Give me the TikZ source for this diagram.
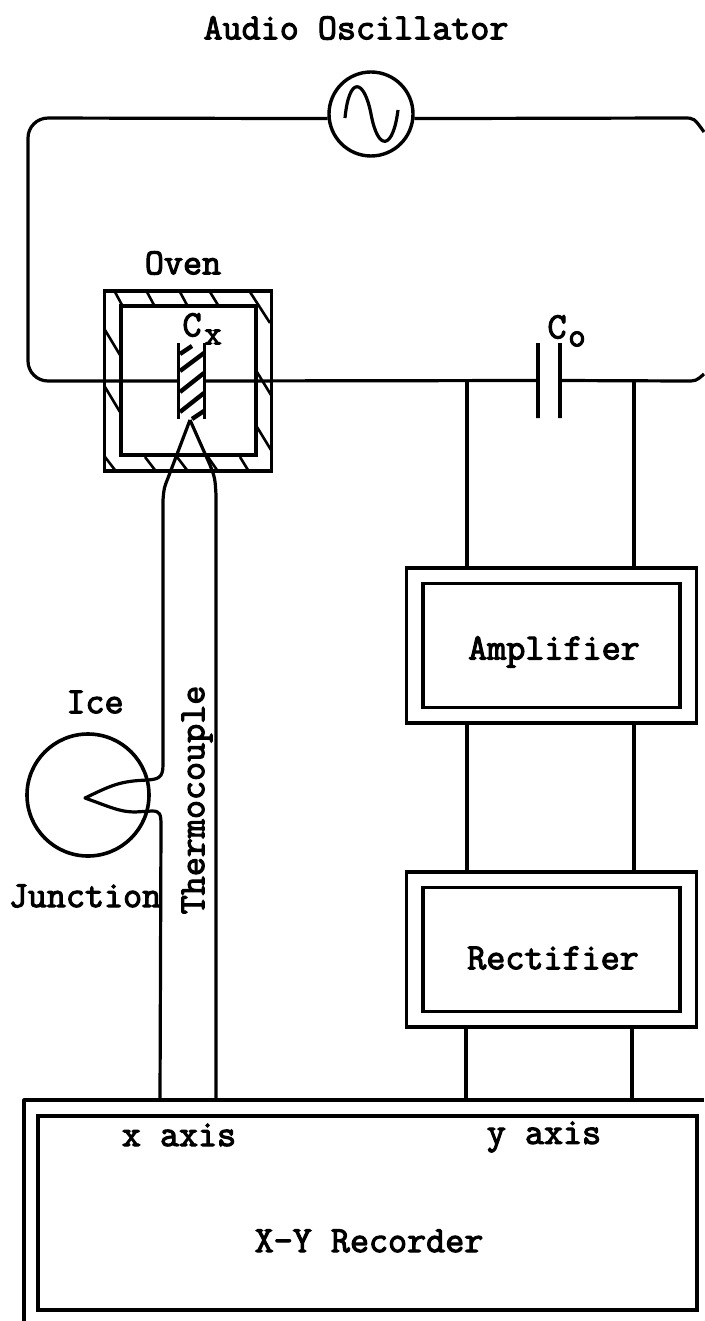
\documentclass[tikz,border=0pt]{standalone}
\usepackage{fontspec}
\usepackage{tikz}
\usetikzlibrary{positioning}
\newfontfamily\typefam{Latin Modern Mono}[FakeBold=3]
\tikzset{
  wire/.style={line width=3.2pt, line join=round},
  housing/.style={rectangle, draw=black, line width=3.6pt, inner sep=0pt},
  plate/.style={rectangle, draw=black, line width=3.2pt, inner sep=0pt, minimum width=0pt, minimum height=75pt},
  outerbox/.style={housing, minimum width=290pt, minimum height=155pt},
  innerbox/.style={housing, minimum width=257pt, minimum height=124pt},
  caption/.style={inner sep=0pt, font=\labelfont}
}
\newcommand{\labelfont}{\typefam\fontsize{37}{37}\selectfont}
\newcommand{\subfont}{\typefam\fontsize{34}{34}\selectfont}
\begin{document}
\begin{tikzpicture}[x=1pt, y=-1pt]
\useasboundingbox (0,0) rectangle (704,1321);

% Oscillator and its label
\node (oscillator) [circle, draw=black, line width=3.4pt, minimum size=84pt, inner sep=0pt] at (371,114) {};
\node (audio) [caption] at (356,28) {Audio Oscillator};
\draw [wire] (345,118) .. controls (349,76) and (364,78) .. (371,114)
             .. controls (378,152) and (393,150) .. (398,110);

% Oven walls with hatching
\node (oven) [housing, minimum width=167pt, minimum height=180pt] at (188,381) {};
\node (chamber) [housing, minimum width=135pt, minimum height=149pt] at (188.5,380.5) {};
\node (ovenlabel) [caption] at (183,263) {Oven};
\foreach \xa/\ya/\xb/\yb in {115/292/122/305, 147/292/154/305, 180/292/187/305, 210/292/218/305,
    250/292/270/323, 105/330/120/355, 105/387/120/412, 105/457/115/470, 145/457/155/470,
    177/457/187/470, 208/457/217/470, 240/457/248/470, 257/372/271/395, 257/427/271/450}
  \draw [line width=2.6pt] (\xa,\ya) -- (\xb,\yb);

% Sample
\node (cx) [minimum width=25pt, minimum height=76pt, inner sep=0pt] at (191.5,381) {};
\draw [wire] (cx.north west) -- (cx.south west);
\draw [wire] (cx.north east) -- (cx.south east);
\foreach \xa/\ya/\xb/\yb in {180/354/192/346, 180/371/204/353, 180/392/204/373, 180/412/204/393, 192/419/204/411}
  \draw [line width=4.4pt] (\xa,\ya) -- (\xb,\yb);
\node (cxlabel) [caption] at (192,325) {C};
\node (cxsub) [inner sep=0pt, font=\subfont] at (213,337) {x};

% Main loop
\node (plateleft) [plate] at (538,380.5) {};
\node (plateright) [plate] at (560,380.5) {};
\coordinate (topleft) at (28,118);
\coordinate (bottomleft) at (28,381);
\coordinate (topright) at (684,118);
\coordinate (edgetop) at (704,132);
\coordinate (bottomright) at (686,381);
\coordinate (edgebottom) at (704,374);
\draw [wire, rounded corners=20pt] (oscillator.186) -- (topleft) -- (bottomleft) -- (cx.west);
\draw [wire] (oscillator.-6) -- (topright) .. controls (694,118) .. (edgetop);
\draw [wire] (cx.east) -- (plateleft);
\draw [wire] (plateright) -- (bottomright) .. controls (696,381) .. (edgebottom);
\node (colabel) [caption] at (557,327) {C};
\node (cosub) [inner sep=0pt, font=\subfont] at (577,339) {o};

% Measuring chain
\node (amplifier) [outerbox] at (551.5,645.5) {};
\node (ampinner) [innerbox] at (551.5,645.5) {};
\node (amptext) [caption] at (554,652) {Amplifier};
\node (rectifier) [outerbox] at (551.5,949.5) {};
\node (recinner) [innerbox] at (551.5,949.5) {};
\node (rectext) [caption] at (553,958) {Rectifier};

% Recorder
\coordinate (framecorner) at (24,1100);
\coordinate (frameright) at (704,1100);
\coordinate (framebottom) at (24,1321);
\draw [wire] (frameright) -- (framecorner) -- (framebottom);
\node (recorder) [housing, minimum width=659pt, minimum height=194pt] at (367.5,1213) {};
\node (xaxis) [caption] at (179,1135) {x axis};
\node (yaxis) [caption] at (544,1137) {y axis};
\node (rectitle) [caption] at (369,1241) {X-Y Recorder};

\coordinate (tapleft) at (467,381);
\coordinate (tapright) at (634,381);
\coordinate (outleft) at (466,1100);
\coordinate (outright) at (632,1100);
\draw [wire] (tapleft) -- (tapleft |- amplifier.north);
\draw [wire] (tapright) -- (tapright |- amplifier.north);
\draw [wire] (tapleft |- amplifier.south) -- (tapleft |- rectifier.north);
\draw [wire] (tapright |- amplifier.south) -- (tapright |- rectifier.north);
\draw [wire] (outleft |- rectifier.south) -- (outleft);
\draw [wire] (outright |- rectifier.south) -- (outright);

% Ice junction and thermocouple
\node (ice) [circle, draw=black, line width=3.6pt, minimum size=122pt, inner sep=0pt] at (88,795) {};
\node (icelabel) [caption] at (95,702) {Ice};
\node (junction) [caption] at (85,896) {Junction};
\node (thermo) [caption, rotate=90] at (197,800) {Thermocouple};
\coordinate (apex) at (190,420);
\coordinate (tip) at (85,798);
\coordinate (xleft) at (160,1100);
\coordinate (xright) at (216,1100);
\draw [wire] (apex) -- (168,478) .. controls (164,488) .. (163,500) -- (163,765)
   .. controls (163,778) and (158,779) .. (148,780) .. controls (120,781) and (112,785) .. (tip)
   .. controls (110,807) and (120,812) .. (135,812) -- (152,811) .. controls (160,811) and (161,814) .. (161,825) -- (xleft);
\draw [wire] (apex) -- (210,465) .. controls (215,478) .. (216,495) -- (xright);
\end{tikzpicture}
\end{document}
